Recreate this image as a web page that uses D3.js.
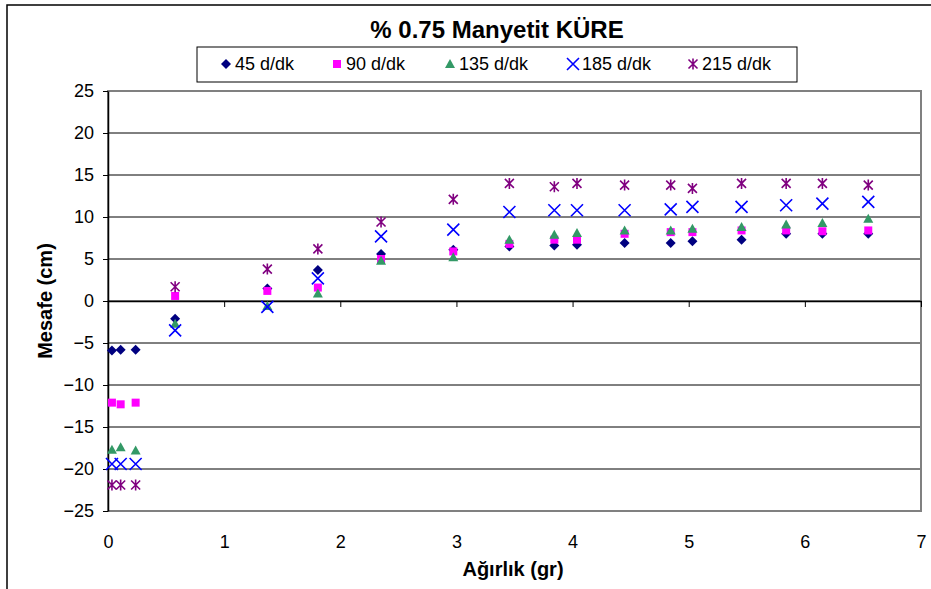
<!DOCTYPE html>
<html><head><meta charset="utf-8">
<script src="https://cdn.jsdelivr.net/npm/d3@7"></script>
<style>
body{margin:0;background:#fff;}
text{font-family:"Liberation Sans",Arial,sans-serif;}
</style></head>
<body><svg id="c" width="931" height="589"></svg>
<script>
const title = "% 0.75 Manyetit KÜRE";
const xLabel = "Ağırlık (gr)";
const yLabel = "Mesafe (cm)";
const xTicks = [0,1,2,3,4,5,6,7];
const yTicks = [-25,-20,-15,-10,-5,0,5,10,15,20,25];
const weights = [0.034,0.109,0.238,0.578,1.372,1.807,2.351,2.973,3.456,3.843,4.038,4.448,4.845,5.032,5.455,5.839,6.151,6.546];
const s45  = [-5.9,-5.8,-5.8,-2.1,1.5,3.7,5.6,6.1,6.5,6.6,6.7,6.9,6.9,7.1,7.3,8.0,8.0,8.0];
const s90  = [-12.1,-12.3,-12.1,0.6,1.2,1.6,5.0,5.9,6.8,7.3,7.3,8.0,8.2,8.2,8.4,8.4,8.3,8.4];
const s135 = [-17.7,-17.4,-17.8,-2.7,-0.6,0.9,4.8,5.2,7.3,7.9,8.1,8.4,8.4,8.6,8.8,9.1,9.3,9.8];
const s185 = [-19.4,-19.4,-19.4,-3.5,-0.7,2.7,7.7,8.5,10.6,10.8,10.8,10.8,10.9,11.2,11.2,11.4,11.6,11.8];
const s215 = [-21.9,-21.9,-21.9,1.7,3.8,6.2,9.4,12.1,14.0,13.6,14.0,13.8,13.8,13.4,14.0,14.0,14.0,13.8];
const seriesNames = ["45 d/dk","90 d/dk","135 d/dk","185 d/dk","215 d/dk"];
const seriesValues = [s45,s90,s135,s185,s215];
const colors = ["#000080","#FF00FF","#339966","#0000FF","#800080"];
const shapes = ["diamond","square","triangle","x","star"];

const svg = d3.select("#c");
svg.append("rect").attr("width",931).attr("height",589).attr("fill","#fff");
svg.append("rect").attr("x",7).attr("y",5).attr("width",940).attr("height",600)
  .attr("fill","none").attr("stroke","#000").attr("stroke-width",1.5);

const x = d3.scaleLinear().domain([0,7]).range([108,921]);
const y = d3.scaleLinear().domain([-25,25]).range([511,91]);

// gridlines
svg.append("g").selectAll("line").data(yTicks.filter(v=>v>-25 && v<25)).join("line")
  .attr("x1",x(0)).attr("x2",x(7)).attr("y1",d=>y(d)).attr("y2",d=>y(d))
  .attr("stroke","#000").attr("stroke-width",1);
// plot border
svg.append("rect").attr("x",x(0)).attr("y",y(25)).attr("width",x(7)-x(0)).attr("height",y(-25)-y(25))
  .attr("fill","none").attr("stroke","#808080").attr("stroke-width",2);

// y axis
const ya = svg.append("g").attr("transform",`translate(${x(0)},0)`)
  .call(d3.axisLeft(y).tickValues(yTicks).tickSize(5).tickPadding(9).tickSizeOuter(0));
ya.select(".domain").attr("stroke","#000").attr("stroke-width",1.5);
ya.selectAll(".tick line").attr("stroke","#000");
ya.selectAll("text").style("font-size","18px").attr("fill","#000");

// x axis at y=0 (ticks only)
const xa = svg.append("g").attr("transform",`translate(0,${y(0)})`)
  .call(d3.axisBottom(x).tickValues(xTicks).tickSize(6).tickFormat("").tickSizeOuter(0));
xa.select(".domain").attr("stroke","#000").attr("stroke-width",1.5);
xa.selectAll(".tick line").attr("stroke","#000");
// x labels at bottom
const xl = svg.append("g").attr("transform",`translate(0,${y(-25)})`)
  .call(d3.axisBottom(x).tickValues(xTicks).tickFormat(d3.format("d")).tickSize(0).tickPadding(24));
xl.select(".domain").remove();
xl.selectAll("text").style("font-size","18px").attr("fill","#000");

function symPath(shape){
  switch(shape){
    case "diamond": return "M0,-5L5,0L0,5L-5,0Z";
    case "square": return "M-4,-4H4V4H-4Z";
    case "triangle": return "M0,-5L5,4L-5,4Z";
    case "x": return "M-6,-6L6,6M-6,6L6,-6";
    case "star": return "M-4.5,-4.5L4.5,4.5M-4.5,4.5L4.5,-4.5M0,-5.5V5.5";
  }
}
function styleSym(sel,i){
  const filled = shapes[i]==="diamond"||shapes[i]==="square"||shapes[i]==="triangle";
  sel.attr("d",symPath(shapes[i]))
    .attr("fill",filled?colors[i]:"none")
    .attr("stroke",filled?"none":colors[i])
    .attr("stroke-width",1.6);
}
seriesValues.forEach((vals,i)=>{
  svg.append("g").selectAll("path").data(vals).join("path")
    .attr("transform",(d,j)=>`translate(${x(weights[j])},${y(d)})`)
    .call(styleSym,i);
});

// title
svg.append("text").attr("x",497).attr("y",38).attr("text-anchor","middle")
  .style("font-size","24px").style("font-weight","bold").text(title);
// legend
svg.append("rect").attr("x",197).attr("y",47).attr("width",600).attr("height",35)
  .attr("fill","#fff").attr("stroke","#000").attr("stroke-width",1);
const legX = [226,337,450,573,693];
seriesNames.forEach((n,i)=>{
  svg.append("path").attr("transform",`translate(${legX[i]},${64})`).call(styleSym,i);
  svg.append("text").attr("x",legX[i]+9).attr("y",70).style("font-size","18px").text(n);
});
// axis titles
svg.append("text").attr("x",513).attr("y",576).attr("text-anchor","middle")
  .style("font-size","20px").style("font-weight","bold").text(xLabel);
svg.append("text").attr("transform","translate(52,301) rotate(-90)").attr("text-anchor","middle")
  .style("font-size","20px").style("font-weight","bold").text(yLabel);
</script></body></html>
